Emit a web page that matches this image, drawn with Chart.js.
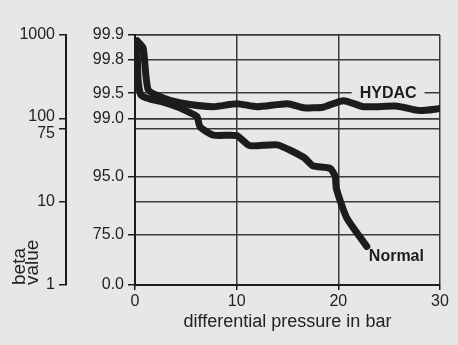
<!DOCTYPE html>
<html>
<head>
<meta charset="utf-8">
<script src="https://cdn.jsdelivr.net/npm/chart.js@4.4.0/dist/chart.umd.min.js"></script>
<style>
  html, body { margin: 0; padding: 0; background: #e6e7e8; }
  #chart { display: block; }
</style>
</head>
<body>
<canvas id="chart" width="458" height="345"></canvas>
<script>
// values (pressure in bar, beta value)
const hydacPressure = [0.2, 0.8, 1.3, 2.7, 4.4, 7.7, 10, 12, 15, 16.6, 18.5, 20.5, 22.5, 25.8, 28, 30];
const hydacBeta = [850, 700, 220, 177, 154, 138, 150, 138, 150, 134, 136, 163, 138, 140, 124, 131];

const normalPressure = [0.2, 0.3, 0.6, 1.5, 2.7, 4.4, 5.4, 6.1, 6.4, 7.7, 10, 11.3, 14, 16.6, 17.5, 19.2, 19.7, 19.8, 20.8, 22.8];
const normalBeta = [850, 300, 190, 170, 158, 134, 117, 105, 79, 63, 62, 47, 48, 34, 27, 25, 20, 14.5, 6.5, 2.9];

const betaTicks = [1, 10, 75, 100, 1000];
const efficiencyTicks = [1, 4, 20, 100, 200, 500, 1000];
const efficiencyLabels = ["0.0", "75.0", "95.0", "99.0", "99.5", "99.8", "99.9"];
const pressureTicks = [0, 10, 20, 30];

const seriesNames = ["HYDAC", "Normal"];

const BG = "#e6e7e8";
const INK = "#1c1c1c";
const GRID = "#3a3a3a";
const FONT = "'Liberation Sans', Arial, sans-serif";

function points(xs, ys) {
    return xs.map((x, i) => ({ x: x, y: ys[i] }));
}

// "100" and "75" sit close together, so nudge them apart a little
function betaLabel(v) {
    if (v === 75) return ["", "75"];
    if (v === 100) return ["100", ""];
    return String(v);
}
function betaFont(c) {
    const v = c.tick ? c.tick.value : null;
    let lh = 1.2;
    if (v === 75) lh = 0.6;
    if (v === 100) lh = 0.2;
    return { family: FONT, size: 16, lineHeight: lh };
}

const lineLabels = {
    id: "lineLabels",
    beforeDatasetsDraw(chart) {
        const ctx = chart.ctx;
        const x = chart.scales.x;
        const y = chart.scales.y;
        ctx.save();
        ctx.font = "bold 16px " + FONT;
        ctx.textBaseline = "middle";
        ctx.textAlign = "left";

        // HYDAC sits on the 99.5 grid line, with a gap cut round it
        const hx = x.getPixelForValue(22.1);
        const hy = y.getPixelForValue(200);
        const w = ctx.measureText(seriesNames[0]).width;
        ctx.fillStyle = BG;
        ctx.fillRect(hx - 8, hy - 7, w + 16, 14);
        ctx.fillStyle = INK;
        ctx.fillText(seriesNames[0], hx, hy);

        ctx.fillText(seriesNames[1], x.getPixelForValue(23.0), y.getPixelForValue(2.17));
        ctx.restore();
    }
};

new Chart(document.getElementById("chart"), {
    type: "line",
    data: {
        datasets: [
            {
                label: seriesNames[0],
                data: points(hydacPressure, hydacBeta),
                borderColor: INK,
                borderWidth: 7,
                pointRadius: 0,
                tension: 0.2,
                borderJoinStyle: "round",
                borderCapStyle: "round"
            },
            {
                label: seriesNames[1],
                data: points(normalPressure, normalBeta),
                borderColor: INK,
                borderWidth: 7,
                pointRadius: 0,
                tension: 0.2,
                borderJoinStyle: "round",
                borderCapStyle: "round"
            }
        ]
    },
    options: {
        responsive: false,
        animation: false,
        layout: { padding: { top: 35, right: 18, bottom: 0, left: 0 } },
        plugins: {
            legend: { display: false },
            tooltip: { enabled: false }
        },
        scales: {
            x: {
                type: "linear",
                min: 0,
                max: 30,
                afterBuildTicks: s => { s.ticks = pressureTicks.map(v => ({ value: v })); },
                afterFit: s => { s.height = 60; },
                grid: { color: GRID, lineWidth: 1.5, tickLength: 5, tickColor: INK },
                border: { color: INK, width: 2 },
                ticks: { color: "#222", font: { family: FONT, size: 16 }, padding: 2, maxRotation: 0 },
                title: {
                    display: true,
                    text: "differential pressure in bar",
                    color: "#222",
                    font: { family: FONT, size: 18 },
                    padding: { top: 0, bottom: 12 }
                }
            },
            y: {
                type: "logarithmic",
                position: "left",
                weight: 0,
                min: 1,
                max: 1000,
                afterBuildTicks: s => { s.ticks = efficiencyTicks.map(v => ({ value: v })); },
                afterFit: s => { s.width = 69; },
                grid: { color: GRID, lineWidth: 1.5, tickLength: 7, tickColor: INK },
                border: { color: INK, width: 2 },
                ticks: {
                    color: "#222",
                    font: { family: FONT, size: 16 },
                    padding: 4,
                    callback: v => efficiencyLabels[efficiencyTicks.indexOf(v)]
                }
            },
            beta: {
                type: "logarithmic",
                position: "left",
                weight: 1,
                min: 1,
                max: 1000,
                afterBuildTicks: s => { s.ticks = betaTicks.map(v => ({ value: v })); },
                afterFit: s => { s.width = 66; },
                grid: { color: GRID, lineWidth: 1.5, tickLength: 7, tickColor: INK },
                border: { color: INK, width: 2 },
                ticks: {
                    color: "#222",
                    font: betaFont,
                    padding: 4,
                    callback: betaLabel
                },
                title: {
                    display: true,
                    text: ["beta", "value"],
                    align: "start",
                    color: "#222",
                    font: { family: FONT, size: 19, lineHeight: 0.65 },
                    padding: { top: 14, bottom: 0 }
                }
            }
        }
    },
    plugins: [lineLabels]
});
</script>
</body>
</html>
